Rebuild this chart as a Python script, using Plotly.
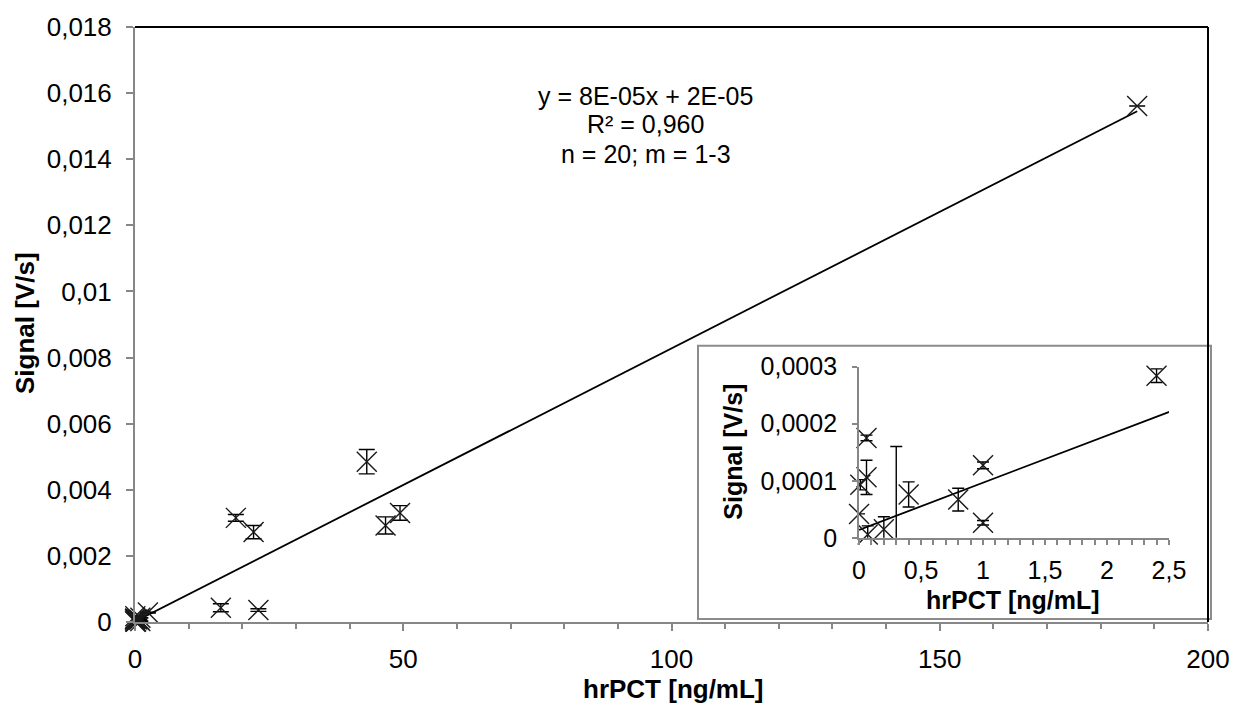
import numpy as np
import plotly.graph_objects as go

# hrPCT calibration: concentration, mean signal and standard deviation
conc = [0.0, 0.01, 0.06, 0.06, 0.07, 0.2, 0.3, 0.4, 0.8, 1.0, 1.0, 2.4,
        16.0, 18.8, 22.1, 23.0, 43.2, 46.7, 49.4, 186.8]
signal = [4.2e-5, 9.3e-5, 1.75e-4, 1.06e-4, 6e-6, 1.5e-5, -1e-5, 7.6e-5,
          6.7e-5, 1.27e-4, 2.65e-5, 2.84e-4,
          0.00043, 0.00315, 0.00272, 0.00036, 0.00485, 0.00292, 0.0033, 0.01561]
sd = [0.0, 9e-6, 5e-6, 3e-5, 1.5e-5, 2.2e-5, 1.7e-4, 2.2e-5,
      2e-5, 6e-6, 4e-6, 1.2e-5,
      0.00012, 0.0001, 0.0002, 0.00004, 0.00037, 0.00026, 0.00022, 0.0]

# axis ticks
x_ticks = [0, 50, 100, 150, 200]
x_ticklabels = ["0", "50", "100", "150", "200"]
y_ticks = [0, 0.002, 0.004, 0.006, 0.008, 0.01, 0.012, 0.014, 0.016, 0.018]
y_ticklabels = ["0", "0,002", "0,004", "0,006", "0,008", "0,01", "0,012",
                "0,014", "0,016", "0,018"]
inset_x_ticks = [0, 0.5, 1, 1.5, 2, 2.5]
inset_x_ticklabels = ["0", "0,5", "1", "1,5", "2", "2,5"]
inset_y_ticks = [0, 0.0001, 0.0002, 0.0003]
inset_y_ticklabels = ["0", "0,0001", "0,0002", "0,0003"]

fit_text = ["y = 8E-05x + 2E-05", "R² = 0,960", "n = 20; m = 1-3"]
x_title = "hrPCT [ng/mL]"
y_title = "Signal [V/s]"

FONT = "Liberation Sans, Arial, sans-serif"
AXIS_GREY = "#878787"
MARK = "#1a1a1a"

c = np.array(conc)
s = np.array(signal)
e = np.array(sd)

# linear least-squares trendline
slope, intercept = np.polyfit(c, s, 1)
line_x = np.array([c.min(), c.max()])
line_y = slope * line_x + intercept

fig = go.Figure()


def points(xs, ys, es, xa, ya, size, cap, clip):
    return go.Scatter(
        x=xs, y=ys, xaxis=xa, yaxis=ya, mode="markers", cliponaxis=clip,
        marker=dict(symbol="x-thin", size=size, color=MARK,
                    line=dict(color=MARK, width=1.4)),
        error_y=dict(type="data", array=es, visible=True, color="black",
                     thickness=1.4, width=cap),
        hoverinfo="skip")


# main chart
fig.add_trace(go.Scatter(x=line_x, y=line_y, mode="lines",
                         line=dict(color="black", width=1.8),
                         xaxis="x", yaxis="y", hoverinfo="skip"))
fig.add_trace(points(c, s, e, "x", "y", 20, 8, False))

# inset (low-concentration range)
in_range = c <= 2.5
shown = in_range & (s >= 0)
below = in_range & (s < 0)
fig.add_trace(go.Scatter(x=line_x, y=line_y, mode="lines",
                         line=dict(color="black", width=1.8),
                         xaxis="x2", yaxis="y2", hoverinfo="skip"))
fig.add_trace(points(c[shown], s[shown], e[shown], "x2", "y2", 20, 6, False))
fig.add_trace(points(c[below], s[below], e[below], "x2", "y2", 20, 6, True))

axis_common = dict(showline=True, linecolor=AXIS_GREY, linewidth=2,
                   ticks="outside", tickcolor=AXIS_GREY, tickwidth=1.5,
                   showgrid=False, zeroline=False, tickmode="array")

fig.update_layout(
    width=1245, height=706,
    margin=dict(l=135, r=37, t=21, b=84),
    paper_bgcolor="white", plot_bgcolor="white",
    showlegend=False,
    font=dict(family=FONT, color="black"),
    xaxis=dict(domain=[0, 1], range=[0, 200], anchor="y",
               tickvals=x_ticks, ticktext=x_ticklabels, ticklen=7,
               ticklabelstandoff=6, tickfont=dict(size=26),
               minor=dict(dtick=10, tick0=0, ticks="outside", ticklen=5,
                          tickcolor=AXIS_GREY, tickwidth=1.5),
               **axis_common),
    yaxis=dict(domain=[0, 1], range=[0, 0.018], anchor="x",
               tickvals=y_ticks, ticktext=y_ticklabels, ticklen=7,
               ticklabelstandoff=9, tickfont=dict(size=26), **axis_common),
    xaxis2=dict(domain=[0.6748, 0.9636], range=[0, 2.5], anchor="y2",
                tickvals=inset_x_ticks, ticktext=inset_x_ticklabels,
                ticklen=5, ticklabelstandoff=4, tickfont=dict(size=25),
                minor=dict(dtick=0.1, tick0=0, ticks="outside", ticklen=5,
                           tickcolor=AXIS_GREY, tickwidth=1.5),
                **axis_common),
    yaxis2=dict(domain=[0.1414, 0.4293], range=[0, 0.0003], anchor="x2",
                tickvals=inset_y_ticks, ticktext=inset_y_ticklabels,
                ticklen=5, ticklabelstandoff=10, tickfont=dict(size=25),
                **axis_common),
)

# top and right frame of the main plot area, inset box
fig.add_shape(type="line", xref="paper", yref="paper", x0=0, x1=1, y0=1, y1=1,
              line=dict(color="black", width=2))
fig.add_shape(type="line", xref="paper", yref="paper", x0=1, x1=1, y0=0, y1=1,
              line=dict(color="black", width=2))
fig.add_shape(type="rect", xref="paper", yref="paper", layer="below",
              x0=0.5247, x1=1.0028, y0=0.005, y1=0.4642,
              fillcolor="white", line=dict(color="#8c8c8c", width=2))


def label(text, x, y, size, angle=0):
    fig.add_annotation(text=text, xref="paper", yref="paper", x=x, y=y,
                       xanchor="center", yanchor="middle", showarrow=False,
                       textangle=angle,
                       font=dict(family=FONT, size=size, color="black"))


# axis titles
label(f"<b>{x_title}</b>", 0.5014, -0.113, 26)
label(f"<b>{y_title}</b>", -0.1025, 0.5025, 26, -90)
label(f"<b>{x_title}</b>", 0.8183, 0.0366, 25)
label(f"<b>{y_title}</b>", 0.5573, 0.2862, 25, -90)

# trendline equation block
for line, yy in zip(fit_text, [0.8835, 0.837, 0.787]):
    label(line, 0.4762, yy, 25)

fig.write_html("out.html")
